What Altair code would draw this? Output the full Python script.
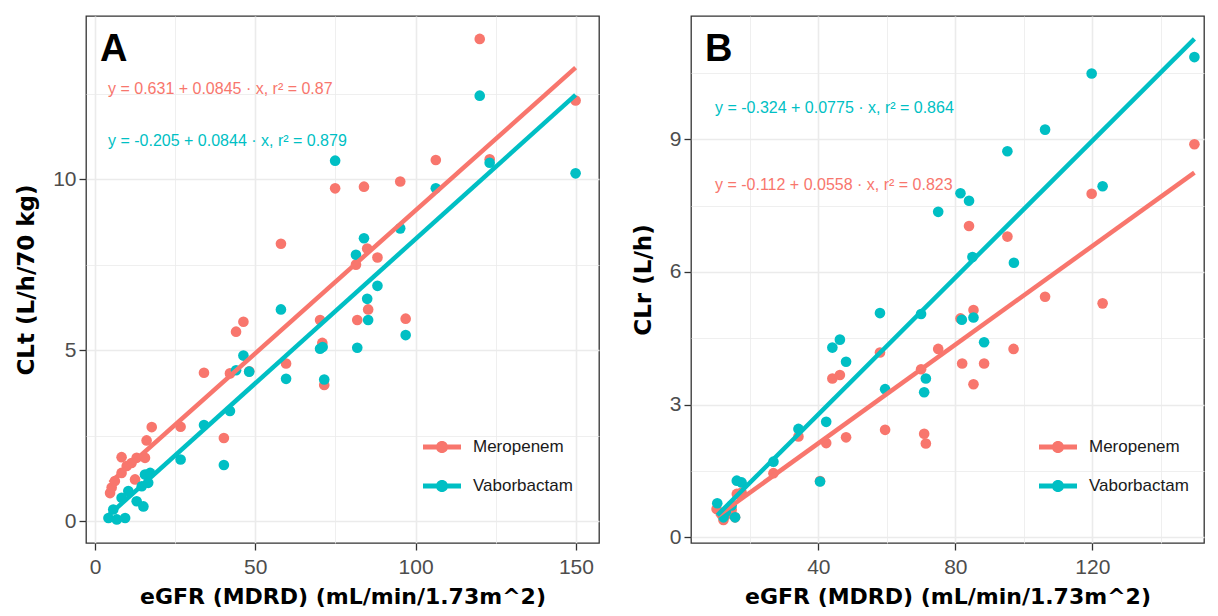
import altair as alt
import pandas as pd

drugs = ["Meropenem", "Vaborbactam"]
palette = ["#F8766D", "#00BFC4"]

# Panel A: CLt (L/h/70 kg) vs eGFR
a_mero_x = [4.7, 5.2, 6.2, 8.3, 8.3, 9.9, 11.4, 12.5, 13.0, 15.6, 16.1, 17.7, 26.7, 34.0, 40.2, 42.1, 44.0, 46.3, 48.1, 58.0,
            59.6, 70.2, 70.9, 71.5, 74.9, 81.4, 81.8, 83.9, 84.9, 85.2, 88.1, 95.2, 96.9, 106.3, 120.0, 123.1, 149.9]
a_mero_y = [0.82, 0.98, 1.17, 1.41, 1.87, 1.61, 1.70, 1.22, 1.85, 1.85, 2.36, 2.75, 2.76, 4.34, 2.43, 4.32, 5.54, 5.83, 4.38, 8.11,
            4.61, 5.88, 5.21, 3.98, 9.73, 7.50, 5.88, 9.78, 7.97, 6.19, 7.71, 9.93, 5.92, 10.56, 14.10, 10.58, 12.30]
a_vabo_x = [4.2, 5.7, 6.8, 8.3, 9.4, 10.4, 13.0, 14.6, 15.1, 15.6, 16.6, 17.2, 26.7, 34.0, 40.2, 42.1, 44.0, 46.3, 48.1, 58.0,
            59.6, 70.2, 71.0, 71.5, 74.9, 81.4, 81.8, 83.9, 84.9, 85.2, 88.1, 95.2, 96.9, 106.3, 120.0, 123.1, 149.9]
a_vabo_y = [0.09, 0.34, 0.05, 0.68, 0.09, 0.88, 0.58, 1.02, 0.43, 1.36, 1.12, 1.41, 1.80, 2.81, 1.64, 3.22, 4.41, 4.84, 4.37, 6.19,
            4.16, 5.04, 5.09, 4.14, 10.54, 7.79, 5.07, 8.27, 6.50, 5.88, 6.88, 8.56, 5.44, 9.73, 12.44, 10.48, 10.17]

# Panel B: CLr (L/h) vs eGFR
b_mero_x = [10.3, 12.3, 13.0, 14.7, 15.7, 16.2, 17.6, 26.9, 34.2, 40.5, 42.3, 44.1, 46.3, 48.1, 58.0, 59.5, 70.0, 70.9, 71.4, 75.0,
            81.5, 82.0, 84.0, 85.3, 85.3, 88.4, 95.2, 97.0, 106.2, 119.8, 123.0, 149.8]
b_mero_y = [0.64, 0.39, 0.50, 0.62, 0.45, 0.98, 1.01, 1.45, 2.28, 1.27, 2.13, 3.59, 3.67, 2.26, 4.18, 2.43, 3.80, 2.34, 2.12, 4.26,
            4.95, 3.93, 7.04, 5.14, 3.46, 3.93, 6.80, 4.26, 5.44, 7.77, 5.29, 8.89]
b_vabo_x = [10.5, 12.3, 13.0, 14.7, 15.7, 16.2, 17.6, 26.9, 34.2, 40.5, 42.3, 44.1, 46.3, 48.1, 58.0, 59.5, 70.0, 70.9, 71.4, 75.0,
            81.5, 81.9, 84.0, 85.0, 85.3, 88.4, 95.2, 97.1, 106.2, 119.8, 123.0, 149.8]
b_vabo_y = [0.77, 0.45, 0.57, 0.72, 0.45, 1.28, 1.24, 1.71, 2.45, 1.26, 2.61, 4.29, 4.47, 3.97, 5.07, 3.35, 5.05, 3.28, 3.59, 7.36,
            7.78, 4.92, 7.61, 6.34, 4.97, 4.41, 8.73, 6.21, 9.22, 10.49, 7.94, 10.86]

a_equations = ["y = 0.631 + 0.0845 · x,  r² = 0.87", "y = -0.205 + 0.0844 · x,  r² = 0.879"]
b_equations = ["y = -0.324 + 0.0775 · x,  r² = 0.864", "y = -0.112 + 0.0558 · x,  r² = 0.823"]

a_xticks = [0, 25, 50, 75, 100, 125, 150]
a_yticks = [0, 2.5, 5, 7.5, 10, 12.5]
b_xticks = [20, 40, 60, 80, 100, 120, 140]
b_yticks = [0, 1.5, 3, 4.5, 6, 7.5, 9, 10.5]

x_title = "eGFR (MDRD) (mL/min/1.73m^2)"

LEGEND_SYMBOL = ("M-1,-0.13H1V0.13H-1Z "
                 "M0.32,0A0.32,0.32 0 1,1 -0.32,0A0.32,0.32 0 1,1 0.32,0Z")


def frame(mx, my, vx, vy):
    rows = [{"x": a, "y": b, "drug": drugs[0]} for a, b in zip(mx, my)]
    rows += [{"x": a, "y": b, "drug": drugs[1]} for a, b in zip(vx, vy)]
    return pd.DataFrame(rows)


def axis(vals, major, title, **kw):
    test = f"abs(datum.value / {major} - round(datum.value / {major})) < 0.000001"
    return alt.Axis(
        values=vals, title=title,
        labelExpr=f"({test}) ? datum.label : ''",
        tickOpacity={"condition": {"test": test, "value": 1}, "value": 0},
        gridWidth={"condition": {"test": test, "value": 1.6}, "value": 0.8},
        **kw,
    )


def panel(df, xdom, ydom, xticks, xmajor, yticks, ymajor, w, h, ytitle, letter,
          eqs, eq_pos, eq_colors, leg_x, leg_y):
    color = alt.Color(
        "drug:N",
        scale=alt.Scale(domain=drugs, range=palette),
        legend=alt.Legend(
            title=None, orient="none", legendX=leg_x, legendY=leg_y,
            symbolType=LEGEND_SYMBOL, symbolSize=1444, symbolStrokeWidth=0,
            symbolOpacity=1, labelFont="Liberation Sans", labelFontSize=17,
            labelColor="#1a1a1a", rowPadding=12, labelOffset=12, padding=0,
        ),
    )
    x = alt.X("x:Q", scale=alt.Scale(domain=xdom, nice=False, zero=False),
              axis=axis(xticks, xmajor, x_title, labelPadding=6, titlePadding=9,
                        titleFontSize=22))
    y = alt.Y("y:Q", scale=alt.Scale(domain=ydom, nice=False, zero=False),
              axis=axis(yticks, ymajor, ytitle, labelPadding=3, titlePadding=14,
                        titleFontSize=23))
    base = alt.Chart(df)
    pts = base.mark_circle(size=113, opacity=1).encode(x=x, y=y, color=color)
    lines = base.transform_regression("x", "y", groupby=["drug"]).mark_line(
        strokeWidth=4.5).encode(x=x, y=y, color=color)
    layers = [pts, lines]
    for eq, (ex, ey), col in zip(eqs, eq_pos, eq_colors):
        layers.append(
            alt.Chart(alt.Data(values=[{"t": eq}])).mark_text(
                align="left", baseline="middle", font="Liberation Sans",
                fontSize=16, color=col,
            ).encode(text="t:N", x=alt.value(ex), y=alt.value(ey))
        )
    layers.append(
        alt.Chart(alt.Data(values=[{"t": letter}])).mark_text(
            align="left", baseline="alphabetic", font="Liberation Sans",
            fontSize=38, fontWeight="bold", color="#000000",
        ).encode(text="t:N", x=alt.value(14), y=alt.value(45))
    )
    return alt.layer(*layers).properties(width=w, height=h)


df_a = frame(a_mero_x, a_mero_y, a_vabo_x, a_vabo_y)
df_b = frame(b_mero_x, b_mero_y, b_vabo_x, b_vabo_y)

chart_a = panel(df_a, [-2.8, 157.2], [-0.64, 14.77], a_xticks, 50, a_yticks, 5,
                513, 527, "CLt (L/h/70 kg)", "A",
                a_equations, [(22, 73), (22, 125)], palette, 337, 412)
chart_b = panel(df_b, [2.83, 152.6], [-0.13, 11.79], b_xticks, 40, b_yticks, 3,
                513, 527, "CLr (L/h)", "B",
                b_equations, [(24, 92), (24, 169)], [palette[1], palette[0]], 348, 412)

chart = alt.hconcat(chart_a, chart_b, spacing=31).resolve_scale(
    color="independent", x="independent", y="independent"
).resolve_legend(color="independent").properties(
    padding={"left": 6, "top": 7, "right": 0, "bottom": 0}
).configure_view(
    stroke="#333333", strokeWidth=1.3
).configure_axis(
    labelFont="Liberation Sans", labelFontSize=21, labelColor="#4d4d4d",
    titleFont="DejaVu Sans", titleFontWeight="bold",
    titleColor="#000000", tickColor="#333333", tickSize=7, tickWidth=1.3,
    domain=False, gridColor="#ebebeb",
)

chart.save("out.html", embed_options={"renderer": "svg", "actions": False})
